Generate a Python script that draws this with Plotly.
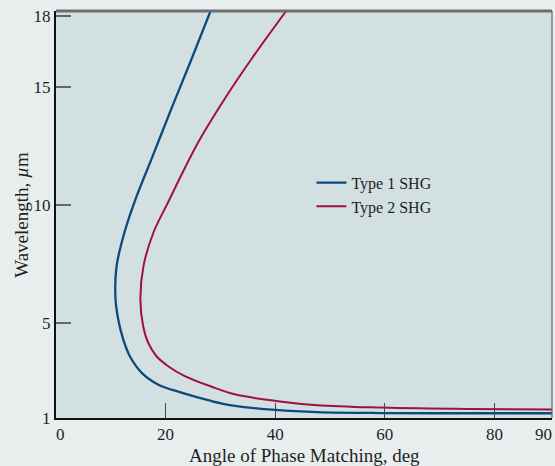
import plotly.graph_objects as go

# Type 1 SHG curve (angle in deg, wavelength in µm)
type1_angle = [28.2, 24.7, 21.0, 17.4, 14.5, 12.5, 11.05, 10.85, 11.35, 12.25, 13.45, 15.6, 18.6, 22.9, 28.3, 32.6, 40.1, 47.7, 59.3, 75.0, 90.5]
type1_wl    = [18.2, 16.15, 14.04, 11.93, 10.24, 8.85, 7.41, 6.05, 5.17, 4.33, 3.62, 2.92, 2.42, 2.07, 1.72, 1.51, 1.34, 1.25, 1.21, 1.2, 1.2]

# Type 2 SHG curve
type2_angle = [42.0, 35.6, 30.7, 25.9, 20.2, 17.8, 15.95, 15.4, 15.9, 16.8, 18.3, 20.4, 23.5, 28.3, 32.6, 40.1, 47.7, 59.3, 75.0, 90.5]
type2_wl    = [18.2, 16.15, 14.46, 12.63, 10.0, 8.85, 7.41, 6.0, 4.89, 4.19, 3.62, 3.2, 2.77, 2.33, 2.0, 1.72, 1.54, 1.44, 1.38, 1.36]

x_ticks = [0, 20, 40, 60, 80]
x_tick_text = ["\u20020", "20", "40", "60", "80"]
x_last_tick = 90
y_ticks = [1, 5, 10, 15, 18]

FONT = "Liberation Serif, Times New Roman, serif"
TXT = "#1e1e1e"
PAPER = "#E8EEEE"

fig = go.Figure()
fig.add_trace(go.Scatter(x=type1_angle, y=type1_wl, mode="lines", name="Type 1 SHG",
                         line=dict(color="#0B4A7F", width=2.3, shape="spline", smoothing=1.0)))
fig.add_trace(go.Scatter(x=type2_angle, y=type2_wl, mode="lines", name="Type 2 SHG",
                         line=dict(color="#A1113F", width=2, shape="spline", smoothing=1.0)))

fig.update_layout(
    width=555, height=466,
    margin=dict(l=56, r=3, t=11, b=48),
    paper_bgcolor=PAPER,
    plot_bgcolor="#D3E0E1",
    font=dict(family=FONT, size=16, color=TXT),
    showlegend=True,
    legend=dict(x=0.515, y=0.62, xanchor="left", yanchor="top",
                bgcolor="rgba(0,0,0,0)", font=dict(family=FONT, size=16, color=TXT),
                tracegroupgap=0, itemwidth=30),
    xaxis=dict(range=[0, 90.5], tickvals=x_ticks, ticktext=x_tick_text, ticks="inside",
               ticklen=15, tickwidth=1.3,
               tickcolor="#444444", showgrid=False, zeroline=False, automargin=False,
               showline=True, linecolor="#111111", linewidth=2,
               tickfont=dict(family=FONT, size=17, color=TXT)),
    yaxis=dict(range=[1, 18.2], tickvals=y_ticks, ticks="inside", ticklen=15, tickwidth=2,
               tickcolor="#666666", showgrid=False, zeroline=False, automargin=False,
               showline=True, linecolor="#111111", linewidth=2,
               tickfont=dict(family=FONT, size=17, color=TXT)),
    shapes=[
        dict(type="line", xref="paper", yref="paper", x0=0, x1=1, y0=1, y1=1,
             line=dict(color="#6E6E6E", width=3)),
        dict(type="line", xref="paper", yref="paper", x0=1, x1=1, y0=0, y1=1,
             line=dict(color="#666666", width=1.2)),
    ],
    annotations=[
        dict(text=str(x_last_tick), xref="x", yref="paper", x=x_last_tick, y=0,
             xanchor="center", yanchor="top", xshift=-6, yshift=-5, showarrow=False,
             font=dict(family=FONT, size=17, color=TXT)),
        dict(text="Angle of Phase Matching, deg", xref="paper", yref="paper",
             x=0.5, y=-0.092, xanchor="center", yanchor="middle", showarrow=False,
             font=dict(family=FONT, size=19, color=TXT)),
        dict(text="Wavelength, <i>µ</i>m", xref="paper", yref="paper",
             x=-0.07, y=0.5, xanchor="center", yanchor="middle", showarrow=False, textangle=-90,
             font=dict(family=FONT, size=19, color=TXT)),
    ],
)

fig.write_html("out.html", config={"displayModeBar": False},
               post_script="document.body.style.margin='0';document.body.style.background='%s';" % PAPER)
